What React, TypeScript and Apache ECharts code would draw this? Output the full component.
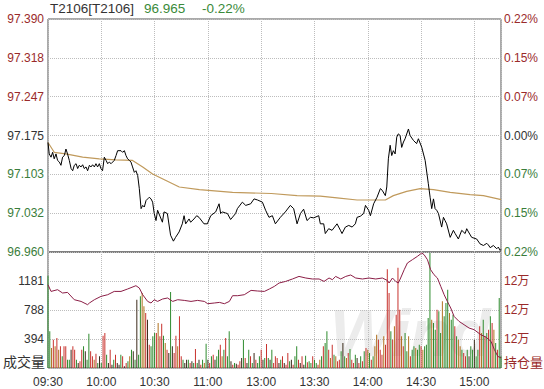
import React, { useEffect, useRef } from "react";
import * as echarts from "echarts";

const timeLabels = ["09:30", "10:00", "10:30", "11:00", "13:00", "13:30", "14:00", "14:30", "15:00"];

const PREV_CLOSE = 97.175;
const PRICE_MIN = 96.96;
const PRICE_MAX = 97.39;

const priceMinutes = [
  0, 0.7, 1.7, 2.6, 3.5, 4.5, 5.4, 6.4, 7.3, 8.2, 9.2, 10.1, 11, 12, 13, 13.9, 14.8, 15.8, 16.7, 17.6,
  18.6, 19.5, 20.4, 21.4, 22.3, 23.3, 24.2, 25.1, 26.1, 27, 27.9, 28.9, 29.8, 30.7, 31.7, 32.7, 33.6, 34.5,
  35.5, 36.4, 37.3, 38.3, 39.2, 41.1, 42, 43, 43.9, 44.8, 45.8, 46.7, 47.6, 48.6, 49.5, 50.5, 51.4, 52.4,
  53.3, 54.2, 55.2, 56.1, 57, 58, 58.9, 59.8, 60.8, 61.7, 64.4, 65.3, 67.2, 69, 70.6, 71.8, 73.8, 75.6,
  76.6, 77.5, 79.4, 80.3, 82.2, 83.7, 85, 87.8, 89.7, 91.6, 94.4, 96.3, 97.2, 98.1, 100, 101, 102.8, 105.6,
  106.6, 109.4, 111.3, 114.1, 116, 117.9, 120.7, 122.5, 124.4, 126.3, 128, 130.8, 133.6, 136.4, 138.3,
  140.2, 142.1, 143.9, 145.8, 147.7, 149.6, 152.4, 153.3, 155.2, 156.1, 158, 159.9, 162.7, 164.6, 165.5,
  167.4, 169.3, 171.2, 173, 174, 175.8, 177.7, 178.7, 180.5, 181.5, 183.3, 185.2, 187.1, 188.1, 189.9,
  190.7, 191.6, 192.6, 193.5, 194.4, 195.4, 196.3, 197.2, 198.2, 199.1, 200.1, 201, 202.9, 203.8, 205.7,
  207.5, 208.5, 210.4, 212.3, 214.1, 215.1, 216, 217, 217.9, 218.8, 219.8, 221.6, 222.6, 223.5, 224.4,
  226.4, 228.2, 229.2, 231, 232.9, 234.8, 235.7, 236.7, 238.5, 241.3, 243.2, 245.1, 247, 247.9, 248.9,
  250.7, 252.6, 253.5, 254.5, 255,
];
const priceValues = [
  97.162, 97.141, 97.135, 97.144, 97.132, 97.141, 97.129, 97.126, 97.12, 97.135, 97.138, 97.15, 97.141,
  97.129, 97.114, 97.11, 97.12, 97.123, 97.114, 97.12, 97.117, 97.121, 97.114, 97.117, 97.11, 97.12,
  97.117, 97.121, 97.117, 97.123, 97.117, 97.123, 97.114, 97.11, 97.135, 97.129, 97.123, 97.126, 97.123,
  97.126, 97.129, 97.138, 97.147, 97.147, 97.144, 97.147, 97.138, 97.132, 97.129, 97.126, 97.117, 97.107,
  97.11, 97.101, 97.077, 97.04, 97.046, 97.043, 97.055, 97.058, 97.061, 97.058, 97.052, 97.031, 97.018,
  97.037, 97.015, 97.034, 97.031, 96.991, 96.98, 96.987, 96.997, 97.012, 97.027, 97.012, 97.021, 97.015,
  97.021, 97.027, 97.024, 97.012, 97.012, 97.027, 97.034, 97.049, 97.031, 97.034, 97.032, 97.031, 97.02,
  97.031, 97.04, 97.052, 97.046, 97.049, 97.058, 97.056, 97.052, 97.037, 97.024, 97.027, 97.012, 97.024,
  97.034, 97.046, 97.04, 97.012, 97.031, 97.039, 97.018, 97.024, 97.023, 97.027, 97.012, 97.012, 96.994,
  97.003, 97.0, 97.012, 97.0, 96.994, 97.006, 97.009, 97.006, 97.012, 97.024, 97.026, 97.031, 97.046,
  97.037, 97.027, 97.049, 97.061, 97.077, 97.074, 97.064, 97.08, 97.132, 97.157, 97.138, 97.147, 97.141,
  97.172, 97.178, 97.175, 97.153, 97.163, 97.169, 97.187, 97.175, 97.166, 97.16, 97.169, 97.153, 97.129,
  97.086, 97.061, 97.04, 97.058, 97.04, 97.037, 97.031, 97.006, 97.024, 97.018, 97.012, 96.987, 97.0,
  96.994, 96.984, 97.0, 96.994, 97.003, 96.997, 96.987, 96.984, 96.975, 96.972, 96.976, 96.973, 96.968,
  96.972, 96.966, 96.969, 96.963, 96.965,
];

const avgMinutes = [0, 3.5, 10, 19.5, 28.9, 38.3, 47.6, 53.3, 58.9, 66.4, 73.9, 85.2, 103.9, 125.7, 140.2, 153.3, 162.7, 174, 189.9, 194.4, 201.9, 209.5, 217, 226.4, 237.6, 245.1, 254.5, 255];
const avgValues = [97.162, 97.144, 97.141, 97.135, 97.132, 97.13, 97.129, 97.117, 97.104, 97.092, 97.08, 97.075, 97.07, 97.068, 97.064, 97.063, 97.06, 97.056, 97.056, 97.064, 97.072, 97.077, 97.075, 97.07, 97.066, 97.064, 97.057, 97.057];

const oiMinutes = [
  0, 1.7, 5.4, 8.2, 11, 14.8, 18.6, 22.3, 23.3, 26.1, 29.8, 33.6, 37.3, 41.1, 44.8, 49.5, 51.4, 53.3, 56.1,
  58, 59.8, 61.7, 64.5, 67.3, 70.2, 73, 76.7, 80.5, 84.2, 88, 89.9, 93.6, 96.5, 99.3, 102.1, 103.9, 106.8,
  110.5, 114.3, 118, 121.8, 124.6, 127.4, 130.1, 133.8, 137.6, 141.3, 145.1, 148.8, 152.6, 155.4, 158.2,
  160.1, 161.9, 164.8, 167.6, 170.4, 173.2, 177, 180.7, 184.5, 188.2, 191, 192, 193.9, 195.7, 197.2, 198.5,
  200.5, 202.3, 205.1, 207.9, 210.4, 211.7, 213.6, 215.4, 217.3, 219.2, 221.1, 223, 224.8, 226.7, 228.6,
  231.4, 234.2, 237, 239.9, 243.6, 246.4, 249.4, 251.3, 253.2, 255,
];
const oiValues = [
  122872, 122641, 122700, 122586, 122607, 122355, 122296, 122183, 122241, 122355, 122469, 122527, 122641,
  122641, 122724, 122838, 122758, 122527, 122296, 122241, 122355, 122296, 122379, 122414, 122296, 122355,
  122331, 122296, 122331, 122296, 122217, 122241, 122262, 122217, 122296, 122493, 122493, 122527, 122676,
  122655, 122641, 122724, 122814, 122931, 122986, 123069, 123158, 123103, 123069, 123069, 122986, 123103,
  123045, 123158, 123069, 123158, 123207, 123103, 123069, 123103, 123069, 123103, 123020, 122931, 123103,
  122986, 122931, 123103, 123389, 123620, 123734, 123848, 123965, 123907, 123734, 123389, 123217, 123103,
  122814, 122527, 122296, 122069, 121779, 121607, 121493, 121379, 121321, 121148, 121069, 120917, 120631,
  120400, 120350,
];

const volumes = [
  1254, 498, 272, 385, 294, 407, 249, 294, 158, 294, 294, 113, 113, 249, 294, 249,
  113, 68, 91, 249, 294, 226, 113, 466, 226, 158, 113, 195, 68, 158, 68, 439,
  475, 181, 68, 249, 45, 113, 181, 68, 45, 181, 158, 23, 68, 91, 158, 249,
  226, 113, 928, 181, 973, 1019, 837, 747, 656, 317, 294, 430, 475, 475, 611, 430,
  602, 439, 340, 249, 204, 1032, 294, 204, 439, 294, 702, 158, 113, 68, 113, 113,
  68, 91, 68, 258, 68, 113, 45, 113, 68, 330, 113, 68, 158, 181, 113, 158,
  249, 317, 158, 249, 407, 158, 498, 91, 45, 68, 59, 45, 91, 136, 385, 136,
  68, 249, 158, 68, 204, 113, 68, 158, 249, 113, 136, 326, 136, 113, 249, 68,
  158, 136, 68, 113, 158, 68, 45, 204, 91, 113, 45, 158, 294, 113, 68, 158,
  45, 167, 77, 91, 68, 158, 113, 68, 45, 113, 158, 294, 340, 498, 249, 136,
  317, 181, 158, 91, 113, 226, 340, 158, 136, 204, 258, 113, 68, 181, 136, 68,
  158, 91, 226, 272, 249, 204, 113, 158, 294, 453, 385, 249, 181, 430, 317, 1340,
  1018, 498, 385, 566, 724, 1360, 792, 430, 294, 475, 226, 430, 158, 249, 294, 272,
  249, 317, 294, 249, 294, 317, 679, 1562, 656, 611, 521, 792, 770, 475, 905, 702,
  883, 1064, 747, 656, 724, 566, 430, 385, 294, 249, 204, 158, 249, 158, 294, 249,
  385, 158, 249, 566, 475, 656, 430, 475, 521, 702, 611, 521, 340, 249, 951, 158,
];

const barColorKeys = [
  "ggorororgrrggkrr", "gkrrgkggrrorgkgr", "rgkrkgrkkgrkrgog", "kgkggoorkrgggror",
  "rgorkgkrrorrgkkg", "rkgrgkrgogkrgrkg", "grogrggkrgkrrkgr", "kgrgkrggrkgrgkgr",
  "rrkgrkrrgkrggrkr", "kgrggrggrogrggro", "rgorrgkgorgrrgkr", "grgrogrgoorrrorr",
  "rgrorrrorggorggo", "ggroggggoggrggog", "ggoggrgoogrrgkgg", "kggrogrgrgrogrgg",
].join("");

const barColors: Record<string, string> = { r: "#C8322D", g: "#2E8B2E", o: "#B0701E", k: "#3B2B1B" };

const RED_TXT = "#9A2A2A";
const GREEN_TXT = "#3A7D3A";
const GRAY_TXT = "#333333";
const FONT = "'Liberation Sans', Arial, 'Noto Sans CJK SC', sans-serif";

export default function App() {
  const ref = useRef<HTMLDivElement>(null);
  useEffect(() => {
    if (!ref.current) return;
    const chart = echarts.init(ref.current, null, { renderer: "svg" });
    const step = (PRICE_MAX - PRICE_MIN) / 6;
    const toUnit = (p: number) => (p - PRICE_MIN) / step;
    const unitPrice = (v: number) => PRICE_MIN + v * step;
    const levelColor = (v: number) => {
      const r = Math.round(Number(v));
      return r > 3 ? RED_TXT : r < 3 ? GREEN_TXT : GRAY_TXT;
    };
    const dotted = { show: true, lineStyle: { color: "#bdbdbd", type: "dotted" as const, width: 1 } };

    const option: any = {
      animation: false,
      backgroundColor: "#ffffff",
      grid: [
        { left: 48, top: 19, width: 453, height: 233, show: true, borderColor: "#555", borderWidth: 1, backgroundColor: "transparent" },
        { left: 48, top: 252, width: 453, height: 116, show: true, borderColor: "#555", borderWidth: 1, backgroundColor: "transparent" },
      ],
      xAxis: [
        {
          gridIndex: 0, type: "value", min: 0, max: 255, interval: 30,
          axisLine: { show: false }, axisTick: { show: false }, axisLabel: { show: false }, splitLine: dotted,
        },
        {
          gridIndex: 1, type: "value", min: 0, max: 255, interval: 30,
          axisLine: { show: false }, axisTick: { show: false }, splitLine: dotted,
          axisLabel: {
            show: true, margin: 8, color: GRAY_TXT, fontSize: 12, fontFamily: FONT, showMaxLabel: false,
            formatter: (v: number) => {
              const i = Math.round(v / 30);
              return Math.abs(v - i * 30) < 0.01 && i < timeLabels.length ? timeLabels[i] : "";
            },
          },
        },
      ],
      yAxis: [
        {
          gridIndex: 0, type: "value", position: "left", min: 0, max: 6, interval: 1,
          axisLine: { show: false }, axisTick: { show: false }, splitLine: dotted,
          axisLabel: {
            margin: 4, fontSize: 12, fontFamily: FONT, color: levelColor,
            formatter: (v: number) => unitPrice(v).toFixed(3),
          },
        },
        {
          gridIndex: 0, type: "value", position: "right", min: 0, max: 6, interval: 1,
          axisLine: { show: false }, axisTick: { show: false }, splitLine: { show: false },
          axisLabel: {
            margin: 3, fontSize: 12, fontFamily: FONT, color: levelColor,
            formatter: (v: number) => (Math.abs(unitPrice(v) - PREV_CLOSE) / PREV_CLOSE * 100).toFixed(2) + "%",
          },
        },
        {
          gridIndex: 1, type: "value", position: "left", min: 0, max: 1575, interval: 393.75,
          axisLine: { show: false }, axisTick: { show: false }, splitLine: dotted,
          axisLabel: {
            margin: 4, fontSize: 12, fontFamily: FONT, color: GRAY_TXT, showMinLabel: false, showMaxLabel: false,
            formatter: (v: number) => String(Math.round(v)),
          },
        },
        {
          gridIndex: 1, type: "value", position: "right", min: 120000, max: 124000, interval: 1000,
          axisLine: { show: false }, axisTick: { show: false }, splitLine: { show: false },
          axisLabel: {
            margin: 3, fontSize: 12, fontFamily: FONT, color: RED_TXT, showMinLabel: false, showMaxLabel: false,
            formatter: (v: number) => Math.round(v / 10000) + "万",
          },
        },
      ],
      series: [
        {
          type: "bar", xAxisIndex: 1, yAxisIndex: 2, barWidth: 1, z: 2,
          data: volumes.map((v, i) => ({ value: [i, v], itemStyle: { color: barColors[barColorKeys[i]] } })),
        },
        {
          type: "line", xAxisIndex: 1, yAxisIndex: 3, showSymbol: false, z: 3,
          lineStyle: { color: "#8B1E46", width: 1 },
          data: oiMinutes.map((m, i) => [m, oiValues[i]]),
        },
        {
          type: "line", xAxisIndex: 0, yAxisIndex: 0, showSymbol: false, z: 3,
          lineStyle: { color: "#C09A5C", width: 1.2 },
          data: avgMinutes.map((m, i) => [m, toUnit(avgValues[i])]),
        },
        {
          type: "line", xAxisIndex: 0, yAxisIndex: 0, showSymbol: false, z: 4,
          lineStyle: { color: "#000000", width: 1 },
          data: priceMinutes.map((m, i) => [m, toUnit(priceValues[i])]),
        },
      ],
      graphic: [
        {
          type: "text", left: 330, top: 300, z: 0, silent: true,
          style: { text: "Wind", fill: "#ececec", font: "italic bold 66px 'Liberation Sans', Arial, sans-serif" },
        },
        {
          type: "text", x: 50, y: 8, z: 10,
          style: { text: "T2106[T2106]", fill: GRAY_TXT, font: `13.5px ${FONT}`, verticalAlign: "middle" },
        },
        {
          type: "text", x: 144, y: 8, z: 10,
          style: { text: "96.965", fill: "#3A8A3A", font: `13.5px ${FONT}`, verticalAlign: "middle" },
        },
        {
          type: "text", x: 202, y: 8, z: 10,
          style: { text: "-0.22%", fill: "#3A8A3A", font: `13.5px ${FONT}`, verticalAlign: "middle" },
        },
        {
          type: "text", x: 45, y: 368, z: 10,
          style: { text: "成交量", fill: GRAY_TXT, font: `14px 'Noto Sans CJK SC', sans-serif`, align: "right", verticalAlign: "bottom" },
        },
        {
          type: "text", x: 504, y: 368, z: 10,
          style: { text: "持仓量", fill: RED_TXT, font: `13px 'Noto Sans CJK SC', sans-serif`, align: "left", verticalAlign: "bottom" },
        },
      ],
    };
    chart.setOption(option);
    return () => chart.dispose();
  }, []);
  return (
    <div
      ref={ref}
      style={{ position: "fixed", left: 0, top: 0, width: 544, height: 389, background: "#fff" }}
    />
  );
}
